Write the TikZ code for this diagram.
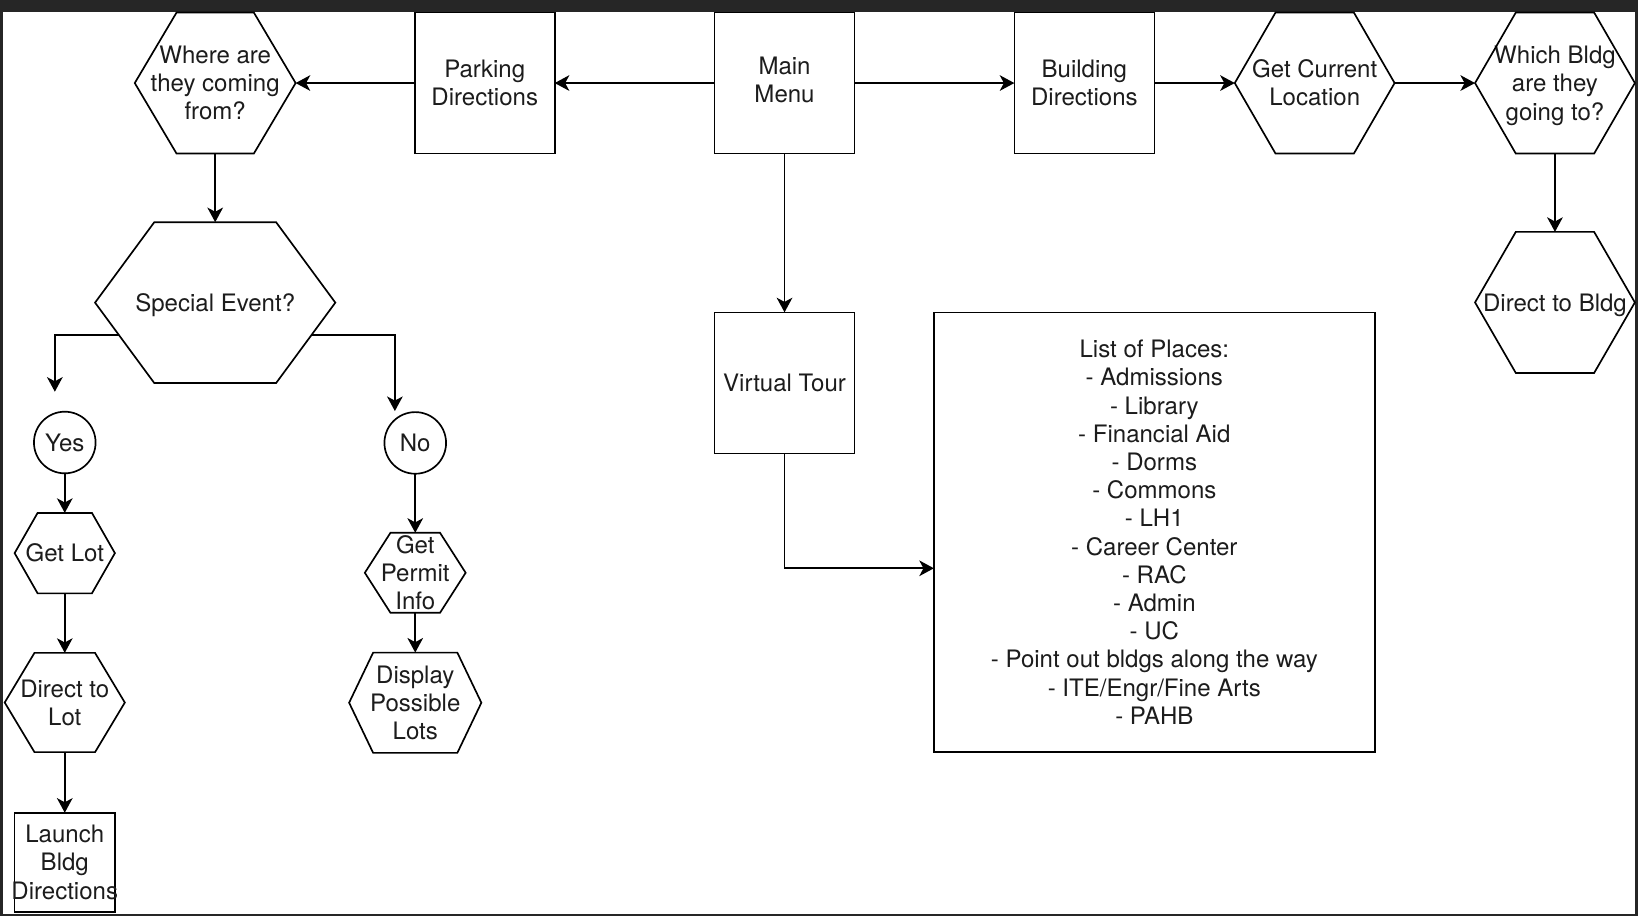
\documentclass[tikz,border=0pt]{standalone}
\usepackage{fontspec}
\setmainfont{TeX Gyre Heros}
\usetikzlibrary{arrows.meta,calc}
\definecolor{framecol}{RGB}{38,38,38}
\definecolor{ink}{RGB}{28,28,28}

% outline of a hexagon laid over a rectangular node: #1 node, #2 inset of the slanted sides
\newcommand\hexoutline[2]{%
  \draw[shapeline] (#1.west) -- ([xshift=#2]#1.north west) -- ([xshift=-#2]#1.north east)
    -- (#1.east) -- ([xshift=-#2]#1.south east) -- ([xshift=#2]#1.south west) -- cycle;}

\begin{document}
\begin{tikzpicture}[x=0.5pt,y=-0.5pt,
  every node/.style={font=\fontsize{11.5}{13.5}\selectfont, text=ink, align=center,
    inner sep=0pt, outer sep=0pt},
  oneline/.style={text height=11pt, text depth=2.6pt},
  shapeline/.style={draw=black, line width=0.8pt, line join=miter},
  box/.style={shapeline, rectangle, minimum width=67pt, minimum height=67.5pt},
  hexa/.style={rectangle, draw=none},
  roundel/.style={shapeline, circle, minimum size=29.5pt},
  arr/.style={draw=black, line width=0.8pt, -{Stealth[length=7pt,width=7.5pt,inset=2pt]}}]

% frame and canvas
\fill[framecol] (0,0) rectangle (1568,877);
\fill[white] (3,11.5) rectangle (1565.5,874.5);
\useasboundingbox (0,0) rectangle (1568,877);

% top row
\node[hexa, minimum width=77pt, minimum height=67.5pt] (where) at (206,79.5) {Where are\\they coming\\from?};
\node[box] (park) at (464,79.5) {Parking\\Directions};
\node[box, text depth=3.5pt] (main) at (751,79.5) {Main\\Menu};
\node[box] (bldg) at (1038,79.5) {Building\\Directions};
\node[hexa, minimum width=76.5pt, minimum height=67.5pt] (loc) at (1258.5,79.5) {Get Current\\Location};
\node[hexa, minimum width=76.5pt, minimum height=67.5pt, text depth=0pt] (which) at (1488.5,79.5) {Which Bldg\\are they\\going to?};
\node[hexa, oneline, minimum width=76.5pt, minimum height=67.5pt] (dbldg) at (1488.5,289.5) {Direct to Bldg};

% parking branch
\node[hexa, oneline, minimum width=115pt, minimum height=77pt] (event) at (206,289.7) {Special Event?};
\node[roundel] (yes) at (62,423.6) {Yes};
\node[roundel] (no) at (397.5,424) {No};
\node[hexa, minimum width=48pt, minimum height=38.5pt] (getlot) at (62,529.5) {Get Lot};
\node[hexa, minimum width=57.5pt, minimum height=47.5pt] (dlot) at (62,672.5) {Direct to\\Lot};
\node[box, minimum width=48pt, minimum height=47.5pt] (launch) at (62,825.5) {Launch\\Bldg\\\makebox[0pt]{Directions}};
\node[hexa, minimum width=48.25pt, minimum height=38.25pt] (permit) at (397.5,548.3) {Get\\Permit\\Info};
\node[hexa, minimum width=63.3pt, minimum height=48pt] (lots) at (397.5,672.7) {Display\\Possible\\Lots};

% tour branch
\node[box] (tour) at (751,366.5) {Virtual Tour};
\node[shapeline, rectangle, minimum width=211pt, minimum height=210.5pt] (places) at (1105,509.5)
  {List of Places:\\- Admissions\\- Library\\- Financial Aid\\- Dorms\\- Commons\\- LH1\\- Career Center\\- RAC\\- Admin\\- UC\\- Point out bldgs along the way\\- ITE/Engr/Fine Arts\\- PAHB};

% hexagon outlines
\hexoutline{where}{20pt}
\hexoutline{loc}{19.5pt}
\hexoutline{which}{19.5pt}
\hexoutline{dbldg}{19.5pt}
\hexoutline{event}{28.35pt}
\hexoutline{getlot}{11pt}
\hexoutline{dlot}{14.25pt}
\hexoutline{permit}{12.25pt}
\hexoutline{lots}{11.5pt}

% connectors
\draw[arr] (park.west) -- (where.east);
\draw[arr] (main.west) -- (park.east);
\draw[arr] (main.east) -- (bldg.west);
\draw[arr] (bldg.east) -- (loc.west);
\draw[arr] (loc.east) -- (which.west);
\draw[arr] (which.south) -- (dbldg.north);
\draw[arr] (where.south) -- (event.north);
\draw[arr] (main.south) -- (tour.north);

\coordinate (yesin) at (52.5,375);
\coordinate (noin) at (378,393.5);
\draw[arr] ($(event.west)!0.4!([xshift=28.35pt]event.south west)$) -| (yesin);
\draw[arr] ($(event.east)!0.4!([xshift=-28.35pt]event.south east)$) -| (noin);

\draw[arr] (yes.south) -- (getlot.north);
\draw[arr] (getlot.south) -- (dlot.north);
\draw[arr] (dlot.south) -- (launch.north);
\draw[arr] (no.south) -- (permit.north);
\draw[arr] (permit.south) -- (lots.north);
\draw[arr] (tour.south) |- ([yshift=-17.25pt]places.west);
\end{tikzpicture}
\end{document}
